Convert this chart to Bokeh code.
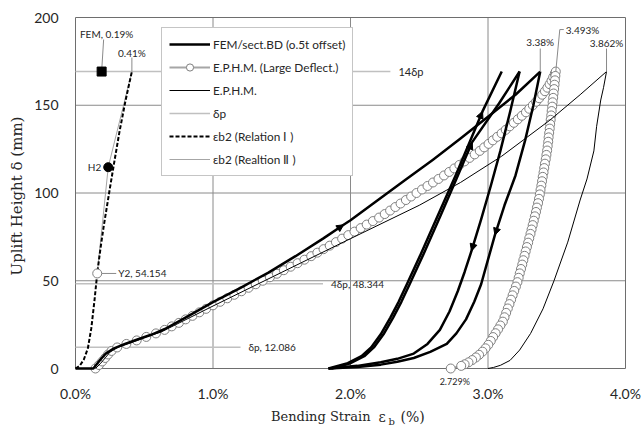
import math

from bokeh.plotting import figure
from bokeh.models import Range1d, Legend, LegendItem, Label, Arrow, NormalHead
from bokeh.embed import file_html
from bokeh.resources import INLINE

# ---------------- axes ----------------
x_ticks = [0, 1, 2, 3, 4]
x_tick_labels = ["0.0%", "1.0%", "2.0%", "3.0%", "4.0%"]
y_ticks = [0, 50, 100, 150, 200]
y_tick_labels = ["0", "50", "100", "150", "200"]

# ---------------- reference heights (mm) ----------------
dp = 12.086
dp_multiples = [1, 4, 14]
top = 14 * dp  # uplift height reached in every cycle

# ---------------- E.P.H.M. (Large Deflect.) ----------------
ld_load_d = [0, 2, 4, 6, 8, 10, 12, 14, 16, 18, 20, 22, 24, 26, 28, 30, 32, 34, 36, 38,
             40, 42, 44, 46, 48, 50, 52, 54, 56, 58, 60, 62, 64, 66, 68, 70, 72, 74, 76,
             78, 80, 82, 84, 86, 88, 90, 92, 94, 96, 98, 100, 102, 104, 106, 108, 110,
             112, 114, 116, 118, 120, 122, 124, 126, 128, 130, 132, 134, 136, 138, 140,
             142, 144, 146, 148, 150, 152, 154, 156, 158, 160, 162, 164, 166, 168, 169.204]
ld_load_e = [0.145, 0.171, 0.194, 0.216, 0.237, 0.262, 0.303, 0.370, 0.445, 0.515, 0.585,
             0.648, 0.700, 0.752, 0.801, 0.851, 0.901, 0.950, 1.000, 1.052, 1.104, 1.155,
             1.207, 1.259, 1.311, 1.362, 1.414, 1.465, 1.515, 1.565, 1.615, 1.665, 1.714,
             1.759, 1.804, 1.849, 1.894, 1.939, 1.984, 2.029, 2.074, 2.118, 2.163, 2.208,
             2.249, 2.288, 2.326, 2.364, 2.403, 2.441, 2.480, 2.520, 2.560, 2.600, 2.640,
             2.680, 2.718, 2.755, 2.792, 2.829, 2.866, 2.903, 2.940, 2.972, 3.004, 3.035,
             3.067, 3.099, 3.129, 3.158, 3.188, 3.217, 3.246, 3.276, 3.300, 3.326, 3.350,
             3.372, 3.394, 3.414, 3.432, 3.448, 3.462, 3.474, 3.486, 3.493]
ld_unload_d = [169.204, 166.7, 164.2, 161.7, 159.2, 156.7, 154.2, 151.7, 149.2, 146.7, 144.2,
               141.7, 139.2, 136.7, 134.2, 131.7, 129.2, 126.7, 124.2, 121.7, 119.2, 116.7,
               114.2, 111.7, 109.2, 106.7, 104.2, 101.7, 99.2, 96.7, 94.2, 91.7, 89.2, 86.7,
               84.2, 81.7, 79.2, 76.7, 74.2, 71.7, 69.2, 66.7, 64.2, 61.7, 59.2, 56.7, 54.2,
               51.7, 49.2, 46.7, 44.2, 41.7, 39.2, 36.7, 34.2, 31.7, 29.2, 26.7, 24.5, 22.3,
               20.1, 17.9, 15.7, 13.5, 11.5, 9.6, 7.8, 6.3, 4.8, 3.5, 2.4, 1.5, 0]
ld_unload_e = [3.493, 3.490, 3.487, 3.484, 3.481, 3.477, 3.474, 3.470, 3.467, 3.463, 3.460,
               3.456, 3.452, 3.449, 3.445, 3.441, 3.438, 3.434, 3.430, 3.425, 3.420, 3.414,
               3.409, 3.404, 3.398, 3.393, 3.388, 3.382, 3.377, 3.371, 3.364, 3.356, 3.349,
               3.341, 3.333, 3.325, 3.317, 3.309, 3.300, 3.292, 3.283, 3.274, 3.266, 3.257,
               3.249, 3.240, 3.231, 3.223, 3.214, 3.203, 3.191, 3.179, 3.168, 3.156, 3.144,
               3.132, 3.120, 3.108, 3.090, 3.073, 3.055, 3.037, 3.020, 3.002, 2.982, 2.960,
               2.935, 2.912, 2.885, 2.858, 2.830, 2.805, 2.729]

# ---------------- E.P.H.M. ----------------
eph_e = [0.145, 0.18, 0.22, 0.25, 0.31, 0.38, 0.45, 0.52, 0.62, 1.0, 1.5, 2.0, 2.5, 2.8,
         3.1, 3.45, 3.67, 3.862, 3.84, 3.82, 3.79, 3.77, 3.72, 3.67, 3.58, 3.48, 3.40,
         3.31, 3.23, 3.16, 3.09, 3.04, 3.0]
eph_d = [0, 2.7, 6.4, 9.3, 12.1, 14, 16, 18.2, 20.7, 35.6, 54.8, 74, 93, 106, 121, 141.5,
         156, top, 160, 153, 138, 124, 108, 96, 72, 50, 34, 20, 10.5, 4.6, 1.8, 0.6, 0]

# ---------------- FEM / sect.BD (three load cycles) ----------------
fem_load_e = [0, 0.13, 0.15, 0.18, 0.22, 0.28, 0.36, 0.45, 0.55, 0.65, 0.8, 1.0, 1.2, 1.4,
              1.6, 1.8, 1.95, 2.0, 2.2, 2.4, 2.6, 2.8, 3.0, 3.2, 3.38]
fem_load_d = [0, 0, 2, 5, 8.5, 11.5, 14, 16.5, 19.2, 22.5, 29, 37.8, 46, 54.5, 64, 74, 81.9,
              84.5, 96, 107.5, 119, 131, 143.5, 156, top]
fem_unload1_e = [3.38, 3.33, 3.27, 3.20, 3.12, 3.05, 3.00, 2.95, 2.90, 2.84, 2.77, 2.70,
                 2.58, 2.46, 2.34, 2.22, 2.05, 1.84]
fem_unload1_d = [top, 150, 130, 110, 93, 76, 62, 48, 38, 28, 20, 14, 9.5, 6, 3.8, 2.2, 0.8, 0]
fem_reload1_e = [1.86, 2.00, 2.10, 2.17, 2.24, 2.31, 2.37, 2.43, 2.53, 2.66, 2.77, 2.885,
                 3.08, 3.23]
fem_reload1_d = [0, 3, 7, 12, 19.5, 29, 38, 48, 65, 88, 108, 129, 151, top]
fem_unload2_e = [3.23, 3.16, 3.09, 3.02, 2.95, 2.88, 2.83, 2.78, 2.72, 2.65, 2.56, 2.46,
                 2.34, 2.22, 2.05, 1.84]
fem_unload2_d = [top, 146, 124, 104, 85, 67, 55, 44, 32.5, 22, 14, 8.5, 5.5, 3.6, 1.5, 0]
fem_reload2_e = [1.84, 1.98, 2.08, 2.15, 2.22, 2.29, 2.35, 2.41, 2.51, 2.64, 2.77, 2.96, 3.10]
fem_reload2_d = [0, 3, 7, 12, 19.5, 29, 38, 48, 65, 88, 111, 146.5, top]
fem_point = (0.19, top)

# ---------------- eb2 relations ----------------
rel1_e = [0.0, 0.03, 0.06, 0.09, 0.115, 0.137, 0.158, 0.18, 0.205, 0.23, 0.255, 0.285,
          0.32, 0.364, 0.41]
rel1_d = [0, 1.5, 5, 11.5, 23, 38, 54.154, 67.5, 81, 93, 105, 119, 135, 152.7, top]
y2 = (0.158, 54.154)
h2 = (0.238, 114.7)
rel2_e = [y2[0], h2[0], 0.41]
rel2_d = [y2[1], h2[1], top]

# ---------------- layout (pixels) ----------------
W, H = 643, 433
BOX_L, BOX_R, BOX_T, BOX_B = 75, 625, 17, 368   # where the 0-4 % / 0-200 mm box sits
PX_X = (BOX_R - BOX_L) / (x_ticks[-1] - x_ticks[0])
PX_Y = (BOX_B - BOX_T) / (y_ticks[-1] - y_ticks[0])

SANS = "Lato"
SERIF = "DejaVu Serif"
GRID = "#8a8a8a"
FRAME = "#6e6e6e"
LIGHT = "#c0c0c0"
LEAD = "#8a8a8a"
TXT = "#262626"


def off(x, y, dx, dy):
    """Data point shifted by a screen offset in pixels (dy upwards)."""
    return x + dx / PX_X, y + dy / PX_Y


# the frame spans the whole canvas; axes, titles and ticks are drawn as annotations
x_range = Range1d(x_ticks[0] - BOX_L / PX_X, x_ticks[0] + (W - BOX_L) / PX_X)
y_range = Range1d(y_ticks[0] - (H - BOX_B) / PX_Y, y_ticks[0] + BOX_B / PX_Y)

p = figure(width=W, height=H, x_range=x_range, y_range=y_range, output_backend="svg",
           toolbar_location=None, x_axis_location=None, y_axis_location=None,
           min_border=0)
p.background_fill_color = "white"
p.border_fill_color = "white"
p.outline_line_color = None
p.grid.visible = False

# grid and plot box
inner_x = x_ticks[1:-1]
inner_y = y_ticks[1:-1]
p.segment(x0=inner_x, y0=[y_ticks[0]] * len(inner_x), x1=inner_x,
          y1=[y_ticks[-1]] * len(inner_x), line_color=GRID, line_width=1)
p.segment(x0=[x_ticks[0]] * len(inner_y), y0=inner_y, x1=[x_ticks[-1]] * len(inner_y),
          y1=inner_y, line_color=GRID, line_width=1)
p.line([x_ticks[0], x_ticks[-1], x_ticks[-1], x_ticks[0], x_ticks[0]],
       [y_ticks[0], y_ticks[0], y_ticks[-1], y_ticks[-1], y_ticks[0]],
       line_color=FRAME, line_width=1)


def label(x, y, txt, dx=0, dy=0, align="left", size="10px", font=SANS, angle=0.0):
    p.add_layout(Label(x=x, y=y, x_offset=dx, y_offset=dy, text=txt, text_font=font,
                       text_font_size=size, text_color=TXT, text_align=align,
                       text_baseline="middle", angle=angle))


# tick labels
for t, s in zip(x_ticks, x_tick_labels):
    label(t, y_ticks[0], s, 0, -25, "center", "14px")
for t, s in zip(y_ticks, y_tick_labels):
    label(x_ticks[0], t, s, -17, 0, "right", "14px")

# axis titles
label(x_ticks[0], (y_ticks[0] + y_ticks[-1]) / 2, "Uplift Height δ (mm)", -59, -3,
      "center", "15px", SERIF, math.pi / 2)
label(x_ticks[0], y_ticks[0], "Bending Strain", 295, -48, "right", "13px", SERIF)
label(x_ticks[0], y_ticks[0], "ε", 303, -48, "left", "14px", SERIF)
label(x_ticks[0], y_ticks[0], "b", 313, -53, "left", "10px", SERIF)
label(x_ticks[0], y_ticks[0], "(%)", 325, -48, "left", "14px", SERIF)

# ---------------- δp reference lines ----------------
dp_line_end = [1.2, 1.8, 2.29]
dp_renderers = []
for k, xe in zip(dp_multiples, dp_line_end):
    lvl = k * dp
    r = p.line([0, xe], [lvl, lvl], line_color=LIGHT, line_width=1.5)
    dp_renderers.append(r)
    if k == 1:
        txt = f"δp, {lvl:.3f}"
    elif k == 14:
        txt = "14δp"
    else:
        txt = f"{k}δp, {lvl:.3f}"
    label(xe, lvl, txt, 8, 0, "left", "11px" if k == 14 else "10px")

# ---------------- E.P.H.M. (Large Deflect.) ----------------
ld_e = ld_load_e + ld_unload_e[1:]
ld_d = ld_load_d + ld_unload_d[1:]
r_ld_line = p.line(ld_e, ld_d, line_color="#a6a6a6", line_width=2)
r_ld_pts = p.scatter(ld_e, ld_d, marker="circle", size=9, line_color="#7f7f7f",
                     fill_color="white", line_width=1)

# ---------------- E.P.H.M. ----------------
r_eph = p.line(eph_e, eph_d, line_color="black", line_width=1)

# ---------------- FEM ----------------
fem_paths = [(fem_load_e, fem_load_d), (fem_unload1_e, fem_unload1_d),
             (fem_reload1_e, fem_reload1_d), (fem_unload2_e, fem_unload2_d),
             (fem_reload2_e, fem_reload2_d)]
fem_renderers = [p.line(e, d, line_color="black", line_width=2.5, line_join="round")
                 for e, d in fem_paths]

# direction arrows: (path index, vertex index)
arrow_marks = [(0, 16), (1, 5), (2, 11), (3, 5), (4, 11)]
for pi, vi in arrow_marks:
    e, d = fem_paths[pi]
    p.add_layout(Arrow(end=NormalHead(size=7, fill_color="black", line_color="black"),
                       x_start=e[vi - 1], y_start=d[vi - 1], x_end=e[vi], y_end=d[vi],
                       line_alpha=0))

# ---------------- eb2 relations ----------------
r_rel2 = p.line(rel2_e, rel2_d, line_color="#a6a6a6", line_width=1)
r_rel1 = p.line(rel1_e, rel1_d, line_color="black", line_width=2, line_dash="4 2")


# ---------------- marked points & notes ----------------
def leader(pts):
    p.line([q[0] for q in pts], [q[1] for q in pts], line_color=LEAD, line_width=1)


# FEM point
leader([fem_point, off(*fem_point, 2, 32)])
p.scatter([fem_point[0]], [fem_point[1]], marker="square", size=9, color="black")
label(*fem_point, f"FEM, {fem_point[0]:.2f}%", 5, 38, "center")

# end of relation II
leader([(rel2_e[-1], rel2_d[-1]), off(rel2_e[-1], rel2_d[-1], 0, 14)])
label(rel2_e[-1], rel2_d[-1], f"{rel2_e[-1]:.2f}%", 0, 19, "center")

# H2 and Y2
p.scatter([h2[0]], [h2[1]], marker="circle", size=9, color="black")
label(*h2, "H2", -7, 0, "right")
leader([off(*y2, 4, 0), off(*y2, 19, 0)])
p.scatter([y2[0]], [y2[1]], marker="circle", size=9, line_color="#7f7f7f",
          fill_color="white")
label(*y2, f"Y2, {y2[1]:.3f}", 21, 0, "left")

# peak strains
c_peak = (fem_load_e[-1], fem_load_d[-1])
leader([c_peak, off(*c_peak, 0, 23)])
label(*c_peak, f"{c_peak[0]:.2f}%", 0, 30, "center")

ld_peak = (ld_load_e[-1], ld_load_d[-1])
leader([ld_peak, off(*ld_peak, 4, 42), off(*ld_peak, 8, 42)])
label(*ld_peak, f"{ld_peak[0]:.3f}%", 10, 42, "left")

eph_peak = (max(eph_e), top)
leader([eph_peak, off(*eph_peak, 0, 23)])
label(*eph_peak, f"{eph_peak[0]:.3f}%", 0, 29, "center")

ld_end = (ld_unload_e[-1], ld_unload_d[-1])
label(*ld_end, f"{ld_end[0]:.3f}%", 4, -13, "center", "9px")

# ---------------- legend ----------------
legend = Legend(items=[
    LegendItem(label="FEM/sect.BD (o.5t offset)", renderers=[fem_renderers[0]]),
    LegendItem(label="E.P.H.M. (Large Deflect.)", renderers=[r_ld_line, r_ld_pts]),
    LegendItem(label="E.P.H.M.", renderers=[r_eph]),
    LegendItem(label="δp", renderers=[dp_renderers[0]]),
    LegendItem(label="εb2 (Relation Ⅰ )", renderers=[r_rel1]),
    LegendItem(label="εb2 (Realtion Ⅱ )", renderers=[r_rel2]),
], location=(161, H - 176))
legend.padding = 7
legend.spacing = 5
legend.label_height = 18
legend.glyph_height = 18
legend.glyph_width = 41
legend.label_standoff = 3
legend.label_text_font = SANS
legend.label_text_font_size = "11.8px"
legend.label_text_color = TXT
legend.border_line_color = "#8c8c8c"
legend.border_line_width = 1
legend.background_fill_color = "white"
legend.background_fill_alpha = 1
p.add_layout(legend)

open("out.html", "w").write(file_html(p, INLINE))
